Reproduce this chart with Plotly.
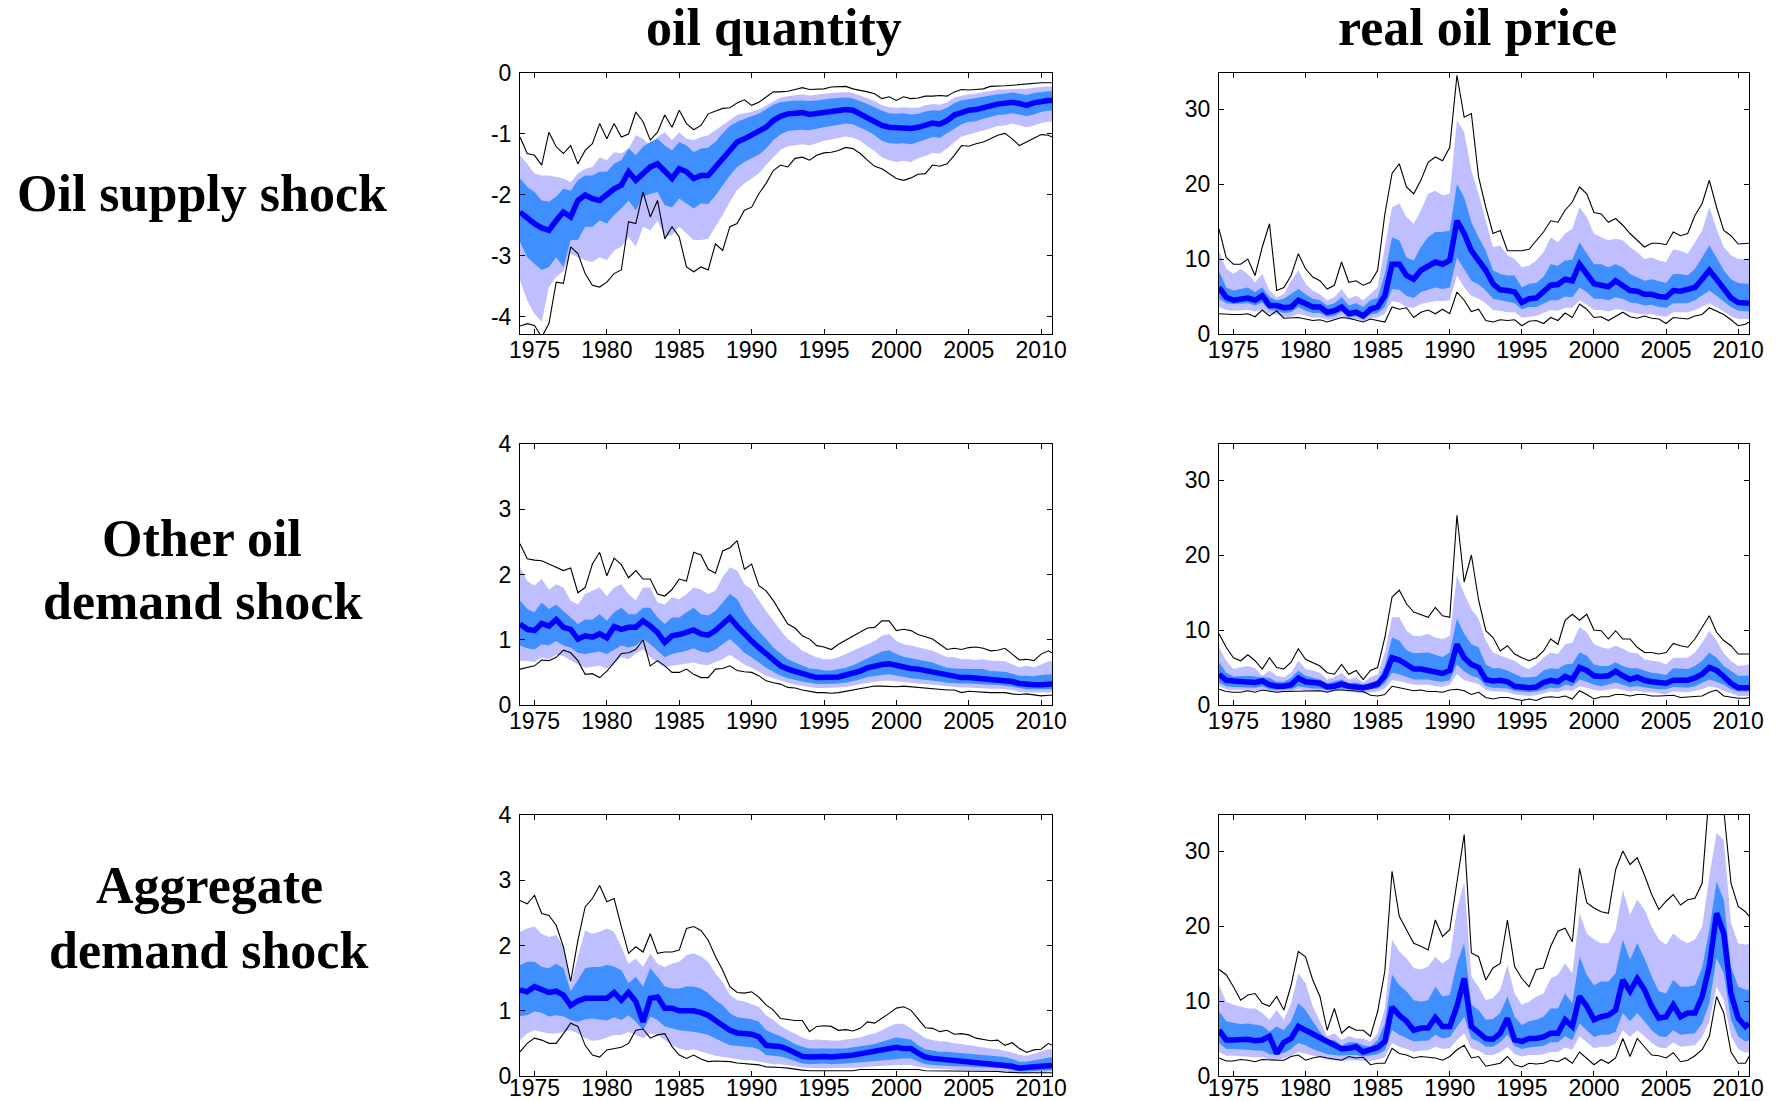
import plotly.graph_objects as go

# ---------------- time axis (half-year sampling, 1974 - 2010Q4) ----------------
YEARS = [1974 + 0.5 * i for i in range(74)] + [2010.75]
XTICKS = [1975, 1980, 1985, 1990, 1995, 2000, 2005, 2010]

COL_TITLES = ["oil quantity", "real oil price"]
ROW_LABELS = [["Oil supply shock"], ["Other oil", "demand shock"], ["Aggregate", "demand shock"]]

# ---------------- Panel 1: oil supply shock -> oil quantity ----------------
q_sup_med = [-2.28,-2.39,-2.47,-2.54,-2.58,-2.42,-2.28,-2.36,-2.09,-2.00,
             -2.06,-2.09,-2.00,-1.90,-1.84,-1.62,-1.76,-1.65,-1.54,-1.49,
             -1.62,-1.73,-1.57,-1.62,-1.73,-1.68,-1.68,-1.54,-1.38,-1.24,
             -1.13,-1.08,-1.02,-0.97,-0.89,-0.78,-0.71,-0.67,-0.66,-0.65,
             -0.68,-0.66,-0.64,-0.62,-0.61,-0.60,-0.61,-0.67,-0.72,-0.78,
             -0.86,-0.89,-0.90,-0.89,-0.91,-0.89,-0.85,-0.82,-0.84,-0.78,
             -0.69,-0.64,-0.61,-0.60,-0.56,-0.54,-0.51,-0.50,-0.48,-0.50,
             -0.53,-0.49,-0.46,-0.45,-0.45]
q_sup_max = [-1.05,-1.32,-1.35,-1.51,-0.97,-1.21,-1.32,-1.19,-1.49,-1.27,
             -1.16,-0.83,-1.08,-0.83,-1.05,-1.00,-0.64,-0.80,-1.10,-0.97,
             -0.69,-0.89,-0.61,-0.83,-0.93,-0.86,-0.67,-0.62,-0.58,-0.57,
             -0.49,-0.44,-0.53,-0.48,-0.39,-0.31,-0.31,-0.30,-0.27,-0.24,
             -0.27,-0.26,-0.26,-0.23,-0.22,-0.22,-0.26,-0.28,-0.31,-0.34,
             -0.42,-0.39,-0.45,-0.39,-0.42,-0.41,-0.38,-0.38,-0.37,-0.38,
             -0.31,-0.27,-0.28,-0.27,-0.26,-0.22,-0.22,-0.21,-0.20,-0.19,
             -0.17,-0.17,-0.16,-0.16,-0.16]
q_sup_min = [-4.15,-4.11,-4.14,-4.33,-4.11,-3.43,-3.45,-2.85,-2.96,-3.29,
             -3.48,-3.51,-3.43,-3.29,-3.23,-2.44,-2.47,-1.95,-2.36,-2.09,
             -2.72,-2.52,-2.69,-3.18,-3.26,-3.18,-3.23,-2.80,-2.91,-2.52,
             -2.47,-2.25,-2.20,-1.98,-1.81,-1.60,-1.51,-1.54,-1.40,-1.38,
             -1.43,-1.35,-1.31,-1.30,-1.27,-1.22,-1.24,-1.32,-1.43,-1.53,
             -1.57,-1.65,-1.73,-1.76,-1.72,-1.66,-1.65,-1.51,-1.53,-1.49,
             -1.35,-1.19,-1.20,-1.16,-1.13,-1.08,-1.02,-0.99,-1.08,-1.19,
             -1.13,-1.08,-1.01,-1.02,-1.05]
q_sup_hi90 = [-1.35,-1.49,-1.65,-1.68,-1.68,-1.70,-1.73,-1.79,-1.65,-1.57,
              -1.54,-1.38,-1.43,-1.30,-1.32,-1.24,-1.02,-1.08,-1.19,-1.05,
              -0.97,-1.10,-0.97,-1.08,-1.10,-1.05,-1.02,-0.94,-0.86,-0.78,
              -0.69,-0.66,-0.64,-0.60,-0.53,-0.46,-0.40,-0.38,-0.37,-0.35,
              -0.37,-0.35,-0.34,-0.33,-0.32,-0.31,-0.33,-0.37,-0.42,-0.46,
              -0.53,-0.56,-0.57,-0.56,-0.57,-0.57,-0.53,-0.51,-0.52,-0.48,
              -0.40,-0.37,-0.35,-0.34,-0.31,-0.30,-0.27,-0.27,-0.26,-0.26,
              -0.26,-0.24,-0.23,-0.22,-0.22]
q_sup_hi68 = [-1.73,-1.87,-1.95,-2.09,-2.11,-2.03,-1.90,-1.93,-1.76,-1.68,
              -1.68,-1.62,-1.62,-1.49,-1.43,-1.24,-1.35,-1.21,-1.13,-1.08,
              -1.19,-1.27,-1.13,-1.19,-1.30,-1.24,-1.22,-1.13,-0.99,-0.87,
              -0.80,-0.75,-0.71,-0.67,-0.60,-0.52,-0.48,-0.46,-0.45,-0.45,
              -0.46,-0.45,-0.43,-0.42,-0.41,-0.40,-0.42,-0.46,-0.51,-0.56,
              -0.62,-0.66,-0.67,-0.66,-0.68,-0.67,-0.63,-0.61,-0.62,-0.57,
              -0.49,-0.45,-0.43,-0.41,-0.38,-0.37,-0.35,-0.34,-0.32,-0.34,
              -0.36,-0.33,-0.31,-0.30,-0.30]
q_sup_lo68 = [-2.77,-3.02,-3.13,-3.23,-3.18,-3.02,-3.18,-2.74,-2.74,-2.52,
              -2.52,-2.42,-2.47,-2.33,-2.22,-2.09,-2.25,-2.03,-1.98,-1.95,
              -2.17,-2.20,-2.06,-2.14,-2.22,-2.14,-2.15,-2.01,-1.84,-1.68,
              -1.54,-1.46,-1.40,-1.34,-1.24,-1.10,-1.01,-0.95,-0.94,-0.93,
              -0.94,-0.91,-0.89,-0.87,-0.85,-0.83,-0.84,-0.89,-0.95,-1.02,
              -1.11,-1.15,-1.16,-1.15,-1.17,-1.13,-1.09,-1.05,-1.06,-0.99,
              -0.91,-0.84,-0.80,-0.79,-0.75,-0.72,-0.69,-0.68,-0.66,-0.68,
              -0.71,-0.68,-0.64,-0.62,-0.62]
q_sup_lo90 = [-3.40,-3.73,-3.95,-4.08,-3.51,-3.34,-3.25,-2.96,-3.02,-3.07,
              -3.10,-3.02,-3.07,-2.91,-2.85,-2.69,-2.85,-2.52,-2.58,-2.42,
              -2.69,-2.66,-2.52,-2.63,-2.74,-2.74,-2.72,-2.52,-2.33,-2.11,
              -1.92,-1.81,-1.73,-1.65,-1.51,-1.38,-1.26,-1.20,-1.19,-1.17,
              -1.19,-1.15,-1.11,-1.09,-1.07,-1.04,-1.06,-1.11,-1.20,-1.28,
              -1.38,-1.43,-1.46,-1.44,-1.46,-1.40,-1.36,-1.31,-1.32,-1.24,
              -1.13,-1.04,-1.01,-0.98,-0.94,-0.91,-0.87,-0.86,-0.83,-0.86,
              -0.89,-0.86,-0.82,-0.80,-0.80]

# ---------------- Panel 2: oil supply shock -> real oil price ----------------
p_sup_med = [6.2,4.9,4.5,4.7,4.8,4.5,5.1,3.8,3.8,3.5,
             3.6,4.5,4.0,3.6,3.6,2.9,3.1,3.6,2.7,2.9,
             2.4,3.3,3.6,5.1,9.3,9.3,7.8,7.3,8.5,9.1,
             9.6,9.3,9.8,15.1,13.4,11.1,9.8,8.5,6.7,5.9,
             5.8,5.6,4.2,4.7,4.8,5.6,6.5,6.6,7.3,7.1,
             9.3,8.0,6.7,6.5,6.3,7.1,6.5,5.8,5.7,5.3,
             5.3,5.0,4.9,5.8,5.7,6.0,6.2,7.3,8.5,7.3,
             6.0,4.8,4.2,4.1,4.1]
p_sup_max = [14.0,10.2,9.3,9.3,10.0,7.8,11.6,14.7,5.8,6.2,
             7.8,10.7,8.7,7.6,7.1,6.0,6.5,9.6,6.9,7.1,
             6.5,6.9,8.5,16.0,21.4,22.7,19.6,18.7,20.5,22.9,
             23.6,23.1,24.9,34.5,28.9,29.4,20.9,16.9,13.4,13.8,
             11.1,11.1,11.1,11.3,12.5,13.6,15.1,14.9,16.5,17.6,
             19.6,18.7,16.2,16.0,14.9,15.4,14.5,13.4,12.5,11.6,
             12.1,12.1,11.9,13.6,13.1,13.4,15.8,17.4,20.5,16.9,
             13.8,13.1,12.0,12.0,12.1]
p_sup_min = [2.7,2.6,2.6,2.6,2.7,2.3,3.2,2.4,3.1,2.1,
             2.1,2.2,2.0,1.8,1.9,1.6,1.9,2.2,2.1,1.9,
             1.6,2.0,1.8,1.6,3.6,3.3,3.5,2.2,2.9,3.2,
             2.7,3.3,2.7,5.6,4.5,3.0,3.3,1.8,1.6,1.9,
             1.8,1.9,1.1,1.7,1.8,1.4,2.2,1.8,2.8,2.2,
             4.0,3.3,2.2,2.3,1.8,2.4,2.9,2.3,2.1,2.4,
             2.1,2.0,1.4,2.2,2.1,2.0,2.4,2.6,3.5,3.1,
             2.6,1.9,1.1,1.3,1.6]
p_sup_hi90 = [11.1,8.7,8.0,8.7,8.0,6.9,8.0,5.8,4.9,5.3,
              7.1,8.5,6.7,5.8,5.3,4.5,4.9,6.0,4.7,5.1,
              4.5,5.3,6.2,11.6,16.9,17.4,15.6,14.7,16.5,18.7,
              19.1,18.5,18.7,28.5,26.9,21.8,18.7,15.1,11.6,11.8,
              10.5,10.0,8.9,9.1,9.8,10.9,12.9,12.2,13.4,14.0,
              16.9,15.6,13.4,12.9,12.5,12.7,12.5,11.6,10.9,10.0,
              10.2,9.8,9.6,11.3,11.1,10.7,12.2,13.8,16.9,14.0,
              11.6,10.5,10.0,10.0,10.0]
p_sup_hi68 = [8.4,6.2,5.8,6.0,6.2,5.6,6.2,4.9,4.5,4.7,
              5.3,6.0,5.3,4.7,4.5,3.8,4.1,4.9,3.8,4.1,
              3.6,4.5,4.8,8.0,12.9,12.5,10.2,9.8,11.6,12.9,
              13.6,13.6,13.8,20.0,18.2,14.9,12.9,11.1,8.5,8.0,
              7.8,7.8,6.2,6.7,6.8,7.6,9.3,9.1,9.8,9.9,
              12.2,10.7,9.3,9.3,8.9,9.3,8.9,8.0,7.6,7.1,
              7.3,7.1,6.8,8.0,8.0,7.8,8.7,10.2,11.8,10.2,
              8.5,7.3,6.8,6.7,6.7]
p_sup_lo68 = [4.7,4.1,4.0,4.1,4.1,3.8,4.2,3.2,3.1,2.8,
              2.9,3.6,3.1,2.8,2.8,2.3,2.4,3.0,2.2,2.4,
              2.0,2.6,2.8,3.6,6.0,5.9,5.1,4.8,5.6,5.9,
              6.2,6.0,6.2,10.2,8.7,7.1,6.6,5.8,4.7,4.5,
              4.2,4.1,3.3,3.6,3.6,4.0,4.5,4.5,5.0,4.9,
              6.2,5.6,4.7,4.7,4.5,4.9,4.7,4.2,4.1,3.8,
              3.9,3.6,3.5,4.1,4.1,4.1,4.5,5.1,5.8,5.1,
              4.4,3.6,3.1,3.0,3.0]
p_sup_lo90 = [3.6,3.2,3.1,3.2,3.2,3.0,3.3,2.7,2.6,2.3,
              2.3,2.7,2.4,2.2,2.2,1.9,2.0,2.4,1.9,2.0,
              1.7,2.1,2.2,2.7,4.4,4.2,3.6,3.5,4.0,4.2,
              4.4,4.4,4.5,7.8,6.2,5.1,4.7,4.1,3.2,3.1,
              2.9,2.9,2.2,2.3,2.4,2.8,3.2,3.1,3.5,3.5,
              4.5,3.9,3.2,3.2,3.0,3.3,3.2,2.9,2.8,2.6,
              2.7,2.4,2.3,2.9,2.9,2.9,3.2,3.6,4.1,3.6,
              3.0,2.4,2.0,2.0,2.0]

# ---------------- Panel 3: other oil demand shock -> oil quantity ----------------
q_oth_med = [1.24,1.16,1.14,1.25,1.21,1.31,1.19,1.16,1.01,1.06,
             1.04,1.09,1.03,1.20,1.16,1.19,1.19,1.29,1.21,1.11,
             0.96,1.06,1.08,1.11,1.15,1.09,1.07,1.14,1.24,1.34,
             1.21,1.08,0.98,0.88,0.78,0.68,0.60,0.55,0.51,0.47,
             0.45,0.42,0.42,0.43,0.43,0.46,0.48,0.52,0.57,0.60,
             0.62,0.63,0.60,0.57,0.56,0.55,0.53,0.51,0.47,0.45,
             0.43,0.42,0.42,0.41,0.41,0.39,0.39,0.38,0.36,0.33,
             0.31,0.31,0.31,0.32,0.32]
q_oth_max = [2.47,2.24,2.22,2.21,2.16,2.11,2.06,2.10,1.72,1.80,
             2.16,2.34,1.98,2.25,2.15,1.95,2.06,1.93,1.93,1.70,
             1.67,1.77,1.93,1.90,2.34,2.30,2.08,2.02,2.36,2.41,
             2.52,2.08,2.16,1.83,1.75,1.60,1.42,1.24,1.18,1.06,
             1.01,0.91,0.89,0.85,0.93,0.99,1.06,1.11,1.18,1.19,
             1.29,1.29,1.14,1.16,1.14,1.08,1.04,1.01,0.93,0.85,
             0.87,0.85,0.88,0.89,0.87,0.83,0.84,0.87,0.78,0.69,
             0.70,0.68,0.78,0.83,0.80]
q_oth_min = [0.55,0.58,0.60,0.69,0.68,0.73,0.84,0.80,0.68,0.47,
             0.48,0.42,0.52,0.65,0.79,0.80,0.85,1.00,0.60,0.68,
             0.60,0.50,0.50,0.55,0.47,0.42,0.42,0.55,0.56,0.60,
             0.53,0.51,0.50,0.45,0.37,0.34,0.32,0.27,0.26,0.23,
             0.21,0.19,0.19,0.18,0.19,0.21,0.24,0.26,0.28,0.29,
             0.29,0.28,0.28,0.29,0.28,0.27,0.26,0.25,0.23,0.23,
             0.23,0.19,0.21,0.20,0.20,0.19,0.19,0.19,0.17,0.16,
             0.17,0.15,0.14,0.15,0.15]
q_oth_hi90 = [2.11,1.90,1.83,1.93,1.77,1.85,1.80,1.60,1.54,1.70,
              1.75,1.80,1.67,1.80,1.85,1.70,1.60,1.80,1.80,1.57,
              1.54,1.65,1.62,1.70,1.80,1.77,1.70,1.75,1.96,2.11,
              2.06,1.85,1.77,1.60,1.44,1.29,1.14,1.01,0.93,0.83,
              0.78,0.73,0.70,0.70,0.73,0.78,0.82,0.88,0.93,0.98,
              1.06,1.09,0.98,0.93,0.91,0.88,0.85,0.83,0.78,0.73,
              0.73,0.70,0.70,0.69,0.70,0.68,0.68,0.67,0.62,0.58,
              0.60,0.58,0.62,0.67,0.67]
q_oth_hi68 = [1.60,1.47,1.42,1.57,1.47,1.54,1.44,1.34,1.24,1.31,
              1.31,1.39,1.29,1.42,1.49,1.39,1.39,1.49,1.49,1.34,
              1.24,1.34,1.34,1.42,1.49,1.39,1.37,1.44,1.57,1.70,
              1.62,1.42,1.26,1.14,1.01,0.88,0.79,0.70,0.65,0.60,
              0.56,0.55,0.53,0.53,0.55,0.57,0.61,0.66,0.72,0.77,
              0.82,0.84,0.78,0.74,0.72,0.70,0.68,0.65,0.61,0.57,
              0.56,0.55,0.55,0.55,0.55,0.52,0.52,0.51,0.48,0.45,
              0.45,0.44,0.46,0.47,0.47]
q_oth_lo68 = [0.91,0.87,0.85,0.93,0.91,0.98,0.91,0.88,0.80,0.78,
              0.80,0.82,0.78,0.85,0.91,0.88,0.91,1.01,0.93,0.83,
              0.73,0.78,0.80,0.83,0.87,0.82,0.80,0.85,0.93,1.01,
              0.91,0.80,0.73,0.65,0.57,0.51,0.45,0.41,0.38,0.36,
              0.34,0.32,0.32,0.32,0.33,0.34,0.36,0.39,0.43,0.45,
              0.46,0.47,0.45,0.42,0.41,0.40,0.39,0.38,0.36,0.34,
              0.33,0.33,0.33,0.32,0.32,0.31,0.31,0.30,0.28,0.26,
              0.24,0.24,0.24,0.24,0.24]
q_oth_lo90 = [0.68,0.68,0.66,0.73,0.70,0.77,0.75,0.68,0.62,0.57,
              0.58,0.60,0.56,0.65,0.73,0.70,0.79,0.85,0.73,0.65,
              0.58,0.60,0.62,0.63,0.65,0.62,0.61,0.66,0.70,0.77,
              0.70,0.62,0.57,0.51,0.45,0.41,0.37,0.34,0.31,0.29,
              0.28,0.26,0.26,0.26,0.27,0.28,0.29,0.32,0.34,0.36,
              0.37,0.37,0.36,0.34,0.33,0.33,0.32,0.31,0.29,0.28,
              0.28,0.27,0.27,0.26,0.26,0.25,0.25,0.24,0.23,0.20,
              0.19,0.19,0.19,0.19,0.19]

# ---------------- Panel 4: other oil demand shock -> real oil price ----------------
p_oth_med = [4.1,3.3,3.2,3.1,3.1,3.0,3.2,2.7,2.5,2.5,
             2.7,3.6,3.1,3.0,2.9,2.4,2.5,2.8,2.5,2.4,
             2.3,2.5,2.8,3.9,6.3,6.0,5.4,4.8,4.8,4.6,
             4.3,4.2,4.6,8.1,6.3,5.4,5.0,3.4,3.2,3.3,
             3.1,2.5,2.4,2.3,2.4,3.0,3.3,3.1,3.8,3.4,
             5.0,4.6,3.9,3.8,3.9,4.5,3.9,3.4,3.7,3.3,
             3.1,3.0,2.9,3.3,3.3,3.3,3.6,4.1,5.0,4.6,
             3.8,2.9,2.3,2.3,2.3]
p_oth_max = [9.5,7.7,6.3,5.9,6.7,5.9,4.8,6.3,5.0,4.8,
             5.7,7.5,6.1,5.7,5.2,4.3,4.1,5.4,4.1,4.6,
             3.4,4.6,5.0,9.0,14.4,15.3,13.5,12.4,12.1,11.7,
             13.0,11.9,11.7,25.3,16.4,20.0,14.0,9.9,9.0,7.2,
             7.9,6.8,6.3,5.9,6.3,7.2,8.8,8.1,11.3,12.1,
             11.3,12.1,10.0,9.9,8.8,9.9,8.8,8.8,7.7,7.0,
             7.0,6.8,7.0,8.2,7.9,7.7,8.8,10.4,11.9,9.7,
             8.6,7.9,6.8,6.8,6.8]
p_oth_min = [2.1,1.8,1.7,1.7,1.9,1.7,2.0,1.9,1.7,1.8,
             1.8,1.9,1.9,1.8,1.9,1.7,2.0,2.0,1.9,1.9,
             1.8,1.3,1.2,1.4,2.5,2.3,2.1,1.9,2.0,1.8,
             1.8,1.7,2.0,2.1,1.9,1.4,1.7,1.0,0.8,1.0,
             1.0,0.8,0.6,0.8,0.6,1.0,1.1,1.0,1.2,0.8,
             1.9,1.4,0.8,1.1,1.1,1.4,1.4,1.2,1.4,1.4,
             1.2,1.2,1.2,1.3,1.0,1.1,1.1,1.2,1.7,2.0,
             1.2,1.0,0.9,0.9,1.0]
p_oth_hi90 = [7.7,5.9,4.8,5.0,5.2,4.9,3.9,4.6,3.9,3.7,
              4.3,5.9,4.8,4.6,4.3,3.4,3.7,4.3,3.4,3.7,
              3.0,3.7,4.1,7.0,11.7,11.7,9.9,9.2,9.2,9.5,
              9.0,8.8,9.2,17.3,14.8,12.8,11.5,8.6,7.0,6.6,
              6.3,5.9,5.2,4.8,5.4,6.3,7.0,6.8,8.1,8.3,
              10.4,9.7,8.1,7.7,7.5,7.9,7.5,7.0,6.9,6.1,
              5.9,5.8,5.4,6.3,6.3,6.3,7.0,8.3,9.9,8.6,
              6.9,5.9,5.2,5.4,5.4]
p_oth_hi68 = [5.7,4.3,3.8,3.9,3.9,3.8,3.7,3.6,3.1,3.1,
              3.6,4.6,3.9,3.7,3.4,2.9,3.1,3.4,2.9,3.0,
              2.7,3.0,3.3,5.2,9.0,8.6,7.3,6.9,7.0,7.0,
              6.7,6.4,7.0,11.5,9.5,8.1,7.7,5.4,4.9,4.9,
              4.6,4.2,3.7,3.7,3.8,4.6,4.9,4.8,5.4,5.5,
              7.0,6.6,5.4,5.2,5.2,5.7,5.2,4.9,4.9,4.6,
              4.3,4.2,4.0,4.9,4.8,4.8,5.2,5.9,7.0,6.3,
              5.2,4.5,3.9,3.9,3.9]
p_oth_lo68 = [3.0,2.5,2.4,2.4,2.4,2.3,2.5,2.1,2.0,2.0,
              2.1,2.5,2.3,2.2,2.2,2.0,2.1,2.2,2.1,2.0,
              1.9,2.1,2.2,2.9,4.3,4.1,3.8,3.4,3.4,3.4,
              3.2,3.1,3.3,5.4,4.5,3.9,3.6,2.5,2.3,2.3,
              2.2,1.9,1.8,1.7,1.8,2.1,2.3,2.2,2.7,2.5,
              3.4,3.1,2.7,2.5,2.7,3.0,2.7,2.4,2.5,2.3,
              2.2,2.1,2.1,2.4,2.3,2.3,2.5,2.9,3.4,3.1,
              2.7,2.1,1.8,1.8,1.8]
p_oth_lo90 = [2.5,2.1,2.0,2.0,2.0,1.9,2.1,1.8,1.7,1.7,
              1.8,2.1,1.9,1.9,1.9,1.7,1.8,1.9,1.8,1.7,
              1.5,1.7,1.8,2.2,3.3,3.2,2.9,2.7,2.7,2.7,
              2.5,2.4,2.7,4.1,3.3,3.0,2.8,2.0,1.8,1.8,
              1.7,1.4,1.3,1.2,1.3,1.5,1.8,1.7,2.0,1.9,
              2.5,2.3,2.0,1.9,2.0,2.2,2.0,1.8,1.9,1.7,
              1.7,1.5,1.4,1.8,1.7,1.7,1.9,2.1,2.5,2.3,
              1.9,1.5,1.2,1.2,1.2]

# ---------------- Panel 5: aggregate demand shock -> oil quantity ----------------
q_agg_med = [1.32,1.29,1.37,1.33,1.28,1.30,1.24,1.08,1.15,1.19,
             1.19,1.21,1.19,1.28,1.16,1.28,1.14,0.83,1.19,1.21,
             1.04,1.04,1.00,1.00,1.00,0.97,0.93,0.85,0.78,0.70,
             0.66,0.65,0.64,0.60,0.47,0.46,0.45,0.41,0.35,0.30,
             0.29,0.30,0.30,0.29,0.29,0.31,0.32,0.34,0.35,0.37,
             0.39,0.41,0.44,0.42,0.42,0.35,0.29,0.27,0.26,0.26,
             0.24,0.23,0.22,0.20,0.20,0.20,0.19,0.18,0.15,0.12,
             0.12,0.14,0.15,0.16,0.16]
q_agg_max = [2.69,2.64,2.77,2.49,2.46,2.31,1.98,1.45,2.08,2.59,
             2.72,2.92,2.67,2.72,2.29,1.88,1.98,1.90,2.18,1.88,
             1.90,1.90,1.93,2.26,2.29,2.23,2.08,1.83,1.62,1.37,
             1.28,1.27,1.29,1.21,1.09,1.01,0.88,0.86,0.85,0.85,
             0.68,0.76,0.77,0.76,0.70,0.71,0.69,0.73,0.83,0.81,
             0.88,0.96,1.04,1.06,1.01,0.88,0.74,0.73,0.68,0.70,
             0.64,0.65,0.63,0.58,0.56,0.54,0.55,0.47,0.51,0.42,
             0.36,0.40,0.41,0.50,0.47]
q_agg_min = [0.37,0.50,0.58,0.55,0.50,0.50,0.65,0.81,0.76,0.47,
             0.32,0.29,0.40,0.42,0.44,0.50,0.70,0.72,0.58,0.63,
             0.65,0.45,0.32,0.27,0.32,0.26,0.22,0.23,0.23,0.22,
             0.20,0.19,0.19,0.17,0.14,0.14,0.13,0.12,0.10,0.09,
             0.08,0.08,0.09,0.08,0.09,0.09,0.08,0.10,0.10,0.11,
             0.11,0.11,0.11,0.11,0.11,0.10,0.08,0.08,0.08,0.08,
             0.07,0.07,0.08,0.07,0.07,0.07,0.07,0.06,0.05,0.05,
             0.05,0.05,0.05,0.05,0.05]
q_agg_hi90 = [2.21,2.26,2.29,2.18,2.13,2.16,1.98,1.40,1.83,2.23,
              2.18,2.21,2.26,2.21,1.98,1.72,1.80,1.67,1.88,1.72,
              1.67,1.72,1.75,1.85,1.88,1.83,1.75,1.57,1.44,1.24,
              1.16,1.14,1.10,1.06,0.93,0.86,0.77,0.70,0.65,0.59,
              0.55,0.56,0.55,0.54,0.54,0.56,0.58,0.59,0.63,0.65,
              0.70,0.76,0.80,0.80,0.73,0.65,0.58,0.55,0.53,0.53,
              0.50,0.49,0.47,0.45,0.44,0.42,0.41,0.39,0.36,0.32,
              0.31,0.34,0.37,0.41,0.41]
q_agg_hi68 = [1.70,1.75,1.75,1.67,1.65,1.72,1.65,1.30,1.47,1.65,
              1.67,1.67,1.70,1.68,1.62,1.42,1.52,1.37,1.65,1.52,
              1.37,1.34,1.34,1.37,1.37,1.34,1.27,1.16,1.09,0.96,
              0.90,0.88,0.87,0.83,0.70,0.65,0.61,0.55,0.49,0.45,
              0.42,0.42,0.42,0.41,0.41,0.42,0.44,0.45,0.47,0.49,
              0.53,0.56,0.59,0.58,0.56,0.47,0.41,0.39,0.37,0.37,
              0.36,0.35,0.34,0.32,0.31,0.31,0.30,0.29,0.26,0.22,
              0.22,0.24,0.27,0.29,0.29]
q_agg_lo68 = [0.92,0.93,0.99,0.97,0.91,0.93,0.91,0.86,0.83,0.87,
              0.88,0.87,0.85,0.90,0.86,0.93,0.83,0.70,0.91,0.86,
              0.76,0.73,0.70,0.69,0.68,0.66,0.63,0.58,0.53,0.47,
              0.46,0.45,0.44,0.41,0.32,0.31,0.30,0.27,0.23,0.19,
              0.18,0.19,0.19,0.18,0.18,0.19,0.20,0.21,0.22,0.23,
              0.24,0.26,0.27,0.27,0.27,0.22,0.18,0.17,0.16,0.16,
              0.15,0.15,0.14,0.13,0.13,0.13,0.12,0.12,0.09,0.07,
              0.07,0.08,0.09,0.09,0.09]
q_agg_lo90 = [0.55,0.65,0.70,0.68,0.65,0.65,0.68,0.70,0.65,0.58,
              0.54,0.55,0.59,0.63,0.63,0.68,0.63,0.58,0.65,0.63,
              0.55,0.47,0.42,0.39,0.41,0.37,0.34,0.31,0.29,0.27,
              0.26,0.24,0.24,0.22,0.19,0.18,0.18,0.17,0.15,0.13,
              0.12,0.12,0.12,0.12,0.12,0.12,0.13,0.13,0.14,0.15,
              0.16,0.17,0.17,0.17,0.17,0.14,0.12,0.11,0.11,0.10,
              0.10,0.09,0.09,0.08,0.08,0.08,0.08,0.07,0.06,0.04,
              0.04,0.05,0.06,0.07,0.07]

# ---------------- Panel 6: aggregate demand shock -> real oil price ----------------
p_agg_med = [6.1,4.8,4.8,4.9,4.9,4.7,4.8,5.3,3.0,4.5,
             5.0,6.6,6.1,5.5,5.0,4.4,3.9,3.6,3.7,3.9,
             3.2,3.5,3.8,4.6,9.2,8.1,7.3,6.1,6.4,6.4,
             7.8,6.6,6.6,9.3,13.0,6.6,5.9,5.0,4.9,5.7,
             7.7,4.8,4.6,5.0,5.0,5.2,5.7,5.7,7.5,6.6,
             10.6,9.3,7.5,7.9,8.1,8.8,12.8,11.3,13.0,11.5,
             9.3,7.7,7.9,9.5,7.9,8.4,8.4,10.6,14.6,21.7,
             19.0,11.0,7.7,6.6,7.0]
p_agg_max = [14.2,13.5,11.9,10.1,10.8,11.0,9.7,9.3,10.6,8.8,
             12.1,16.6,15.9,12.8,10.6,6.1,9.0,5.7,6.6,6.1,
             6.1,5.3,8.6,14.0,27.3,21.3,19.5,17.7,17.3,16.8,
             20.8,18.6,19.5,25.7,32.2,16.4,15.9,12.8,14.4,15.0,
             20.8,14.6,13.0,11.9,14.2,14.4,17.3,19.3,19.7,17.9,
             27.7,23.1,22.4,21.9,21.7,27.5,30.0,28.2,29.1,26.8,
             24.2,22.2,23.3,24.2,22.8,23.5,23.7,25.7,38.0,42.0,
             35.5,25.7,22.6,21.9,21.3]
p_agg_min = [2.4,2.0,2.0,2.2,2.1,1.9,2.2,2.1,2.1,2.1,
             2.6,2.8,2.1,2.4,2.6,2.4,2.2,2.1,2.6,2.4,
             2.5,1.5,1.7,1.7,3.7,3.0,2.8,2.4,2.6,2.5,
             2.4,2.1,2.6,3.5,4.1,2.4,2.6,1.3,1.5,1.7,
             2.6,1.5,1.2,1.7,1.6,1.7,2.1,1.9,2.4,1.7,
             3.2,2.4,1.5,2.2,1.7,2.4,5.0,2.6,5.0,3.9,
             2.8,2.7,2.4,3.1,1.9,2.1,2.7,3.5,5.3,10.6,
             8.4,3.2,1.7,1.7,2.6]
p_agg_hi90 = [12.1,9.9,9.5,9.3,9.0,9.0,8.4,7.5,8.8,7.5,
              9.7,13.7,12.4,9.3,7.3,5.3,5.7,4.8,5.3,5.0,
              5.0,4.6,5.7,9.0,18.2,16.6,15.7,14.4,14.2,14.6,
              15.9,15.0,15.7,22.2,25.9,13.3,11.9,10.1,10.4,11.5,
              14.8,11.0,9.5,9.9,10.6,11.0,13.0,13.5,15.0,13.7,
              21.7,19.0,18.2,17.7,17.7,19.5,24.8,21.5,23.5,22.2,
              19.9,18.2,17.5,19.0,18.2,17.7,18.2,19.9,26.6,32.4,
              31.5,20.4,17.7,17.5,17.7]
p_agg_hi68 = [8.6,7.3,7.1,6.9,7.0,6.8,6.7,5.9,6.6,6.1,
              7.3,9.7,8.8,7.3,5.9,4.8,4.8,4.1,4.5,4.5,
              4.1,3.9,4.8,7.0,13.5,12.1,11.3,10.1,9.9,10.1,
              11.9,10.6,10.8,15.0,17.7,9.5,8.8,7.5,7.6,8.4,
              10.6,7.9,6.8,7.3,7.5,7.9,9.0,9.0,11.0,9.7,
              15.9,13.5,12.1,12.6,12.6,13.7,18.2,15.5,17.7,15.7,
              13.3,11.3,11.0,12.8,11.9,11.9,12.1,14.4,19.5,25.9,
              23.5,14.6,11.9,11.5,11.5]
p_agg_lo68 = [4.4,3.6,3.6,3.6,3.5,3.4,3.4,2.9,2.8,3.1,
              3.6,4.4,4.1,3.6,3.2,2.9,2.8,2.7,2.8,2.8,
              2.6,2.7,2.9,3.4,6.1,5.5,5.0,4.6,4.7,4.7,
              5.5,5.0,5.2,6.6,7.9,5.0,4.6,3.9,3.9,4.5,
              5.5,4.0,3.6,3.8,3.9,4.0,4.5,4.5,5.3,4.8,
              7.0,6.1,5.2,5.5,5.5,5.9,8.4,7.3,8.4,7.3,
              6.1,5.3,5.2,6.1,5.5,5.6,5.7,7.0,9.7,15.7,
              13.7,7.5,5.3,4.6,4.7]
p_agg_lo90 = [3.2,2.7,2.7,2.6,2.6,2.5,2.5,2.2,2.1,2.4,
              2.7,3.2,3.0,2.7,2.5,2.2,2.1,2.0,2.1,2.1,
              2.0,2.0,2.2,2.5,4.4,3.9,3.6,3.2,3.4,3.4,
              3.9,3.6,3.7,4.8,5.7,3.7,3.4,2.8,2.8,3.2,
              3.9,2.9,2.6,2.8,2.8,2.9,3.2,3.2,3.8,3.5,
              5.3,4.5,3.7,3.9,3.9,4.3,6.1,5.2,6.1,5.3,
              4.4,3.8,3.7,4.5,3.9,4.0,4.1,5.2,7.3,11.9,
              10.1,5.3,3.6,3.1,3.2]

# ---------------- styling ----------------
LAV = "#BFBFFF"
BLU = "#3F8FFF"
MED = "#0000FF"
TICK_FONT = dict(family="Liberation Sans, Arial, Helvetica, sans-serif", size=23, color="black")
SERIF = "Liberation Serif, Times New Roman, Times, serif"

# figure fills the whole 1781x1101 page (body margin removed in the page script)
FW, FH = 1781, 1101


def px(X):
    return X / FW


def py(Y):
    return 1 - Y / FH


COL_X = [(520, 1052), (1219, 1749)]
ROW_Y = [(73, 334), (444, 705), (815, 1076)]
XLABEL_STANDOFF = [-5, -5, -9]   # bottom row labels lifted slightly so they stay inside the page

panels = [
    (0, 0, q_sup_lo90, q_sup_lo68, q_sup_med, q_sup_hi68, q_sup_hi90, q_sup_min, q_sup_max,
     [-4.28, 0], [0, -1, -2, -3, -4], ["0", "-1", "-2", "-3", "-4"]),
    (0, 1, p_sup_lo90, p_sup_lo68, p_sup_med, p_sup_hi68, p_sup_hi90, p_sup_min, p_sup_max,
     [0, 34.8], [0, 10, 20, 30], ["0", "10", "20", "30"]),
    (1, 0, q_oth_lo90, q_oth_lo68, q_oth_med, q_oth_hi68, q_oth_hi90, q_oth_min, q_oth_max,
     [0, 4], [0, 1, 2, 3, 4], ["0", "1", "2", "3", "4"]),
    (1, 1, p_oth_lo90, p_oth_lo68, p_oth_med, p_oth_hi68, p_oth_hi90, p_oth_min, p_oth_max,
     [0, 34.8], [0, 10, 20, 30], ["0", "10", "20", "30"]),
    (2, 0, q_agg_lo90, q_agg_lo68, q_agg_med, q_agg_hi68, q_agg_hi90, q_agg_min, q_agg_max,
     [0, 4], [0, 1, 2, 3, 4], ["0", "1", "2", "3", "4"]),
    (2, 1, p_agg_lo90, p_agg_lo68, p_agg_med, p_agg_hi68, p_agg_hi90, p_agg_min, p_agg_max,
     [0, 34.8], [0, 10, 20, 30], ["0", "10", "20", "30"]),
]

fig = go.Figure()
layout_axes = {}

for k, p in enumerate(panels, start=1):
    r, c, lo90, lo68, med, hi68, hi90, mn, mx, yr, ytv, ytt = p
    for s in (lo90, lo68, med, hi68, hi90, mn, mx):
        assert len(s) == len(YEARS), (k, len(s))
    xa = "x" if k == 1 else f"x{k}"
    ya = "y" if k == 1 else f"y{k}"
    common = dict(x=YEARS, xaxis=xa, yaxis=ya, mode="lines", hoverinfo="skip", showlegend=False)
    fig.add_trace(go.Scatter(y=lo90, line=dict(width=0, color=LAV), **common))
    fig.add_trace(go.Scatter(y=hi90, line=dict(width=0, color=LAV), fill="tonexty", fillcolor=LAV, **common))
    fig.add_trace(go.Scatter(y=lo68, line=dict(width=0, color=BLU), **common))
    fig.add_trace(go.Scatter(y=hi68, line=dict(width=0, color=BLU), fill="tonexty", fillcolor=BLU, **common))
    fig.add_trace(go.Scatter(y=mn, line=dict(width=1.1, color="black"), **common))
    fig.add_trace(go.Scatter(y=mx, line=dict(width=1.1, color="black"), **common))
    fig.add_trace(go.Scatter(y=med, line=dict(width=5.5, color=MED), **common))

    x0, x1 = COL_X[c]
    y0, y1 = ROW_Y[r]
    axis_style = dict(showline=True, mirror="ticks", linecolor="black", linewidth=1,
                      ticks="inside", ticklen=5, tickwidth=1, tickcolor="black",
                      showgrid=False, zeroline=False, tickfont=TICK_FONT, automargin=False)
    xkey = "xaxis" if k == 1 else f"xaxis{k}"
    ykey = "yaxis" if k == 1 else f"yaxis{k}"
    layout_axes[xkey] = dict(domain=[px(x0), px(x1)], anchor=ya, range=[1974, 2010.75],
                             tickmode="array", tickvals=XTICKS,
                             ticktext=[str(t) for t in XTICKS],
                             ticklabelstandoff=XLABEL_STANDOFF[r], **axis_style)
    layout_axes[ykey] = dict(domain=[py(y1), py(y0)], anchor=xa, range=yr,
                             tickmode="array", tickvals=ytv, ticktext=ytt,
                             ticklabelstandoff=3, **axis_style)

annotations = []
for txt, cx in zip(COL_TITLES, [774, 1477]):
    annotations.append(dict(text=f"<b>{txt}</b>", x=px(cx), y=py(27), xref="paper", yref="paper",
                            xanchor="center", yanchor="middle", showarrow=False,
                            font=dict(family=SERIF, size=52, color="black")))
row_lines = [
    [(ROW_LABELS[0][0], 202, 193)],
    [(ROW_LABELS[1][0], 202, 538), (ROW_LABELS[1][1], 202, 601)],
    [(ROW_LABELS[2][0], 209, 885), (ROW_LABELS[2][1], 208, 950)],
]
for lines in row_lines:
    for txt, cx, cy in lines:
        annotations.append(dict(text=f"<b>{txt}</b>", x=px(cx), y=py(cy), xref="paper", yref="paper",
                                xanchor="center", yanchor="middle", showarrow=False,
                                font=dict(family=SERIF, size=52, color="black")))

fig.update_layout(width=FW, height=FH, autosize=False,
                  margin=dict(l=0, r=0, t=0, b=0, pad=0, autoexpand=False),
                  paper_bgcolor="white", plot_bgcolor="white",
                  annotations=annotations, **layout_axes)

fig.write_html("out.html",
               config={"displayModeBar": False, "staticPlot": True},
               post_script="document.body.style.margin='0px';document.body.style.overflow='hidden';")
